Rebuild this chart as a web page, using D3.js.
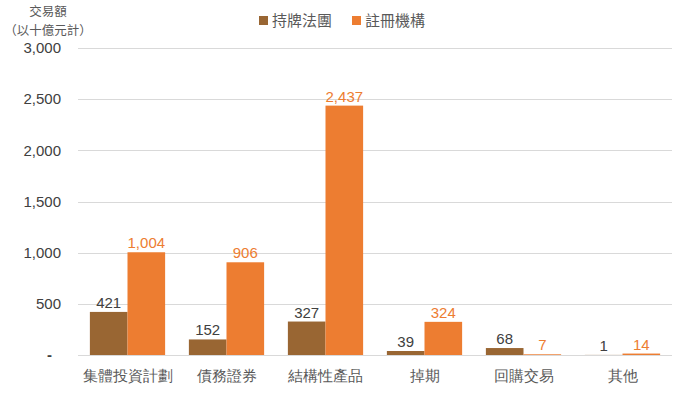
<!DOCTYPE html>
<html><head><meta charset="utf-8">
<script src="https://cdn.jsdelivr.net/npm/d3@7"></script>
<style>body{margin:0;background:#fff;}svg{display:block;font-family:"Noto Sans CJK TC","Liberation Sans",Arial,sans-serif;}</style>
</head><body><svg id="c" width="691" height="393"></svg>
<script>
const categories = ["集體投資計劃","債務證券","結構性產品","掉期","回購交易","其他"];
const seriesNames = ["持牌法團","註冊機構"];
const licensed = [421,152,327,39,68,1];
const registered = [1004,906,2437,324,7,14];
const yTicks = [0,500,1000,1500,2000,2500,3000];
const colors = ["#996633","#ED7D31"];
const labelColors = ["#404040","#ED7D31"];

const svg = d3.select("#c");
const m = {l:78, r:19, t:48, b:38};
const W = 691, H = 393;
const x = d3.scaleBand().domain(categories).range([m.l, W-m.r]).paddingInner(0.24).paddingOuter(0.12);
const x1 = d3.scaleBand().domain([0,1]).range([0, x.bandwidth()]);
const y = d3.scaleLinear().domain([0,3000]).range([355, 48]);

// grid
svg.append("g").selectAll("line").data(yTicks).join("line")
  .attr("x1", m.l).attr("x2", W-m.r)
  .attr("y1", d=>Math.round(y(d))+0.5).attr("y2", d=>Math.round(y(d))+0.5)
  .attr("stroke","#d9d9d9").attr("stroke-width",1);

// y axis labels
const yAxis = d3.axisLeft(y).tickValues(yTicks).tickSize(0).tickPadding(0)
  .tickFormat(d=> d===0 ? "-" : d3.format(",")(d));
const ga = svg.append("g").attr("transform","translate(61,0)").call(yAxis);
ga.select(".domain").remove();
ga.selectAll("text").attr("font-size",15).attr("fill","#404040")
  .attr("font-family","Liberation Sans, Arial, sans-serif");
ga.selectAll(".tick").filter(d=>d===0).select("text").attr("dx",-9).attr("font-weight","bold");

// x axis labels
const xAxis = d3.axisBottom(x).tickSize(0).tickPadding(0);
const gx = svg.append("g").attr("transform","translate(0,367)").call(xAxis);
gx.select(".domain").remove();
gx.selectAll("text").attr("font-size",15).attr("fill","#595959").attr("dy","0.9em");

// bars
const data = categories.map((c,i)=>({c, v:[licensed[i], registered[i]]}));
const g = svg.append("g");
data.forEach(d=>{
  d.v.forEach((v,s)=>{
    const bx = x(d.c)+x1(s);
    g.append("rect").attr("x",bx).attr("width",x1.bandwidth())
      .attr("y",y(v)).attr("height",y(0)-y(v)).attr("fill",colors[s]);
    g.append("text").attr("x",bx+x1.bandwidth()/2).attr("y",y(v)-4)
      .attr("text-anchor","middle").attr("font-size",15)
      .attr("font-family","Liberation Sans, Arial, sans-serif")
      .attr("fill",labelColors[s]).text(d3.format(",")(v));
  });
});

// axis title
svg.append("text").attr("x",48).attr("y",16).attr("text-anchor","middle")
  .attr("font-size",12.5).attr("fill","#595959").text("交易額");
svg.append("text").attr("x",48).attr("y",35).attr("text-anchor","middle")
  .attr("font-size",12.5).attr("fill","#595959").text("（以十億元計）");

// legend
const leg = svg.append("g");
const legX = [259, 352];
seriesNames.forEach((n,i)=>{
  leg.append("rect").attr("x",legX[i]).attr("y",16).attr("width",9).attr("height",9).attr("fill",colors[i]);
  leg.append("text").attr("x",legX[i]+13).attr("y",26).attr("font-size",15).attr("fill","#595959").text(n);
});
</script></body></html>
